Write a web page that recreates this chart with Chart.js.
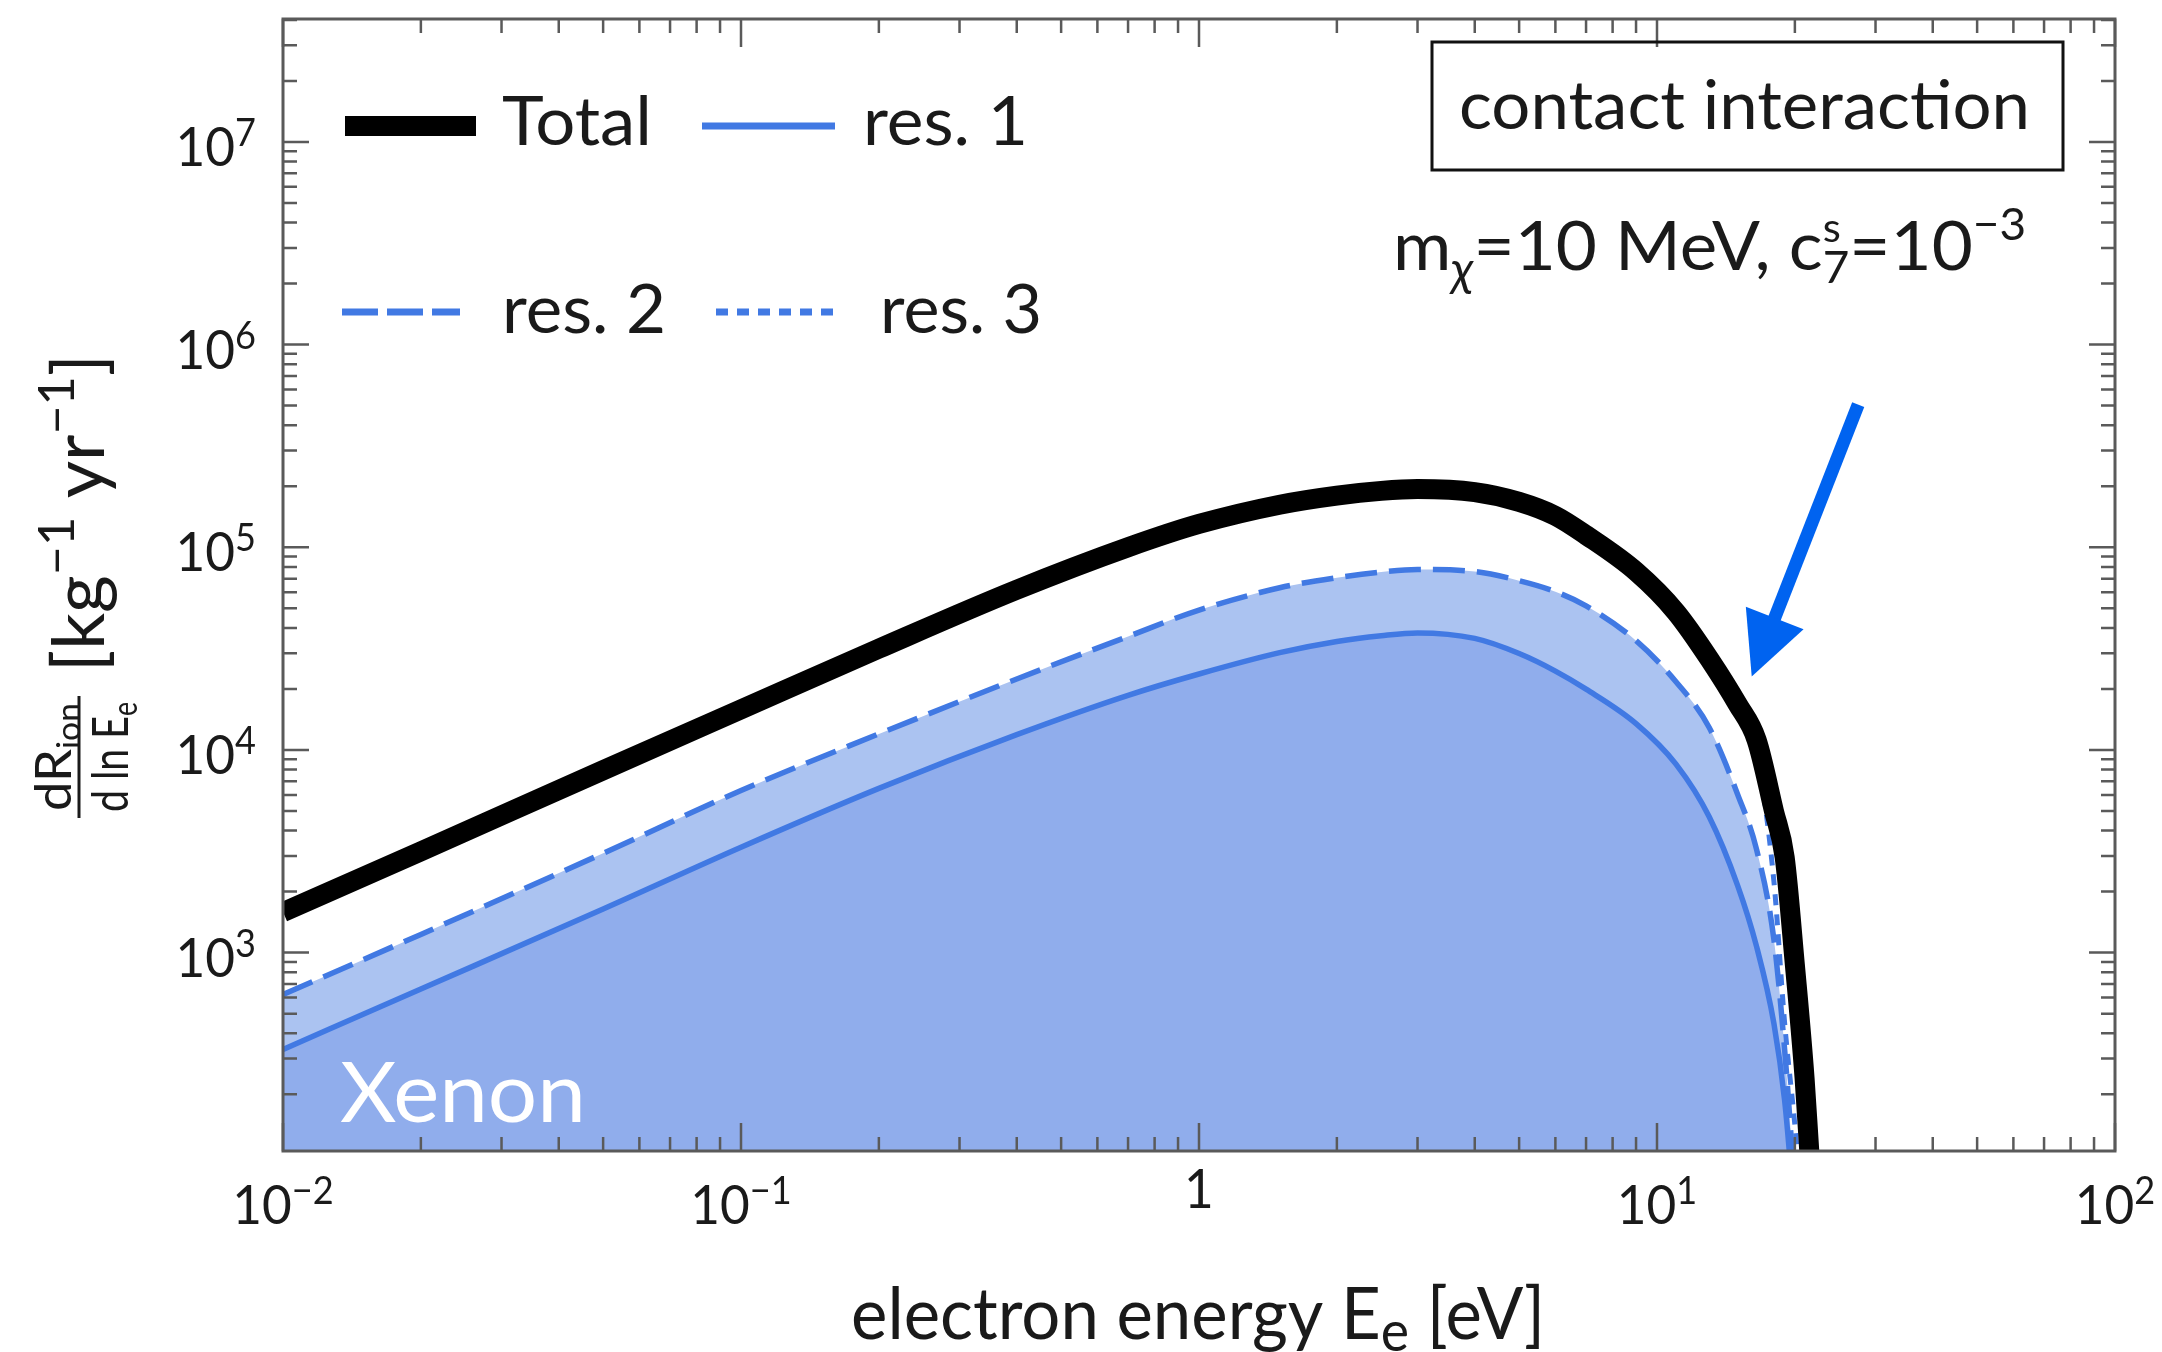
<!DOCTYPE html>
<html>
<head>
<meta charset="utf-8">
<script src="https://cdn.jsdelivr.net/npm/chart.js@4.4.0/dist/chart.umd.min.js"></script>
<style>
  html, body { margin: 0; padding: 0; background: #fff; }
  #wrap { width: 2162px; height: 1352px; }
</style>
</head>
<body>
<div id="wrap"><canvas id="grafico" width="2162" height="1352"></canvas></div>
<script>
// Taxa de ionização diferencial - Xenon, interação de contato

// energia do elétron E_e (eV)
const energias = [0.01, 0.02, 0.05, 0.1, 0.2, 0.4, 0.7, 1, 1.5, 2, 2.5, 3, 4, 5, 6, 7, 9, 11, 13, 15, 16.5, 18, 19, 20, 21, 21.5, 22];

// dR/dlnE (kg^-1 yr^-1)
const total = [1585, 3160, 7940, 15850, 31600, 61700, 100000, 130300, 162200, 179900, 189700, 193600, 187100, 167500, 142900, 114800, 75900, 47900, 28200, 16800, 11200, 5000, 2950, 870, 240, 105, 50];
const res1 = [333, 661, 1640, 3310, 6460, 11900, 18600, 23700, 30200, 34300, 36600, 37800, 35500, 29900, 24500, 19950, 13490, 8510, 4680, 2140, 1070, 447, 186, 50, 16, 13, 10];
const res2 = [621, 1230, 3090, 6310, 12000, 22400, 36300, 49000, 63100, 70800, 75500, 77600, 75900, 68400, 60400, 51400, 34600, 21700, 12900, 6030, 3220, 1160, 331, 71, 25, 20, 16];
const res3 = [1585, 3160, 7940, 15850, 31600, 61700, 100000, 130300, 162200, 179900, 189700, 193600, 187100, 167500, 142900, 114800, 75900, 47900, 28200, 16200, 9550, 2240, 447, 141, 40, 25, 16];

// marcas dos eixos
const xTicks = [0.01, 0.1, 1, 10, 100];
const xTickLabels = ['10^\u22122', '10^\u22121', '1', '10^1', '10^2'];
const yTicks = [1e3, 1e4, 1e5, 1e6, 1e7];
const yTickLabels = ['10^3', '10^4', '10^5', '10^6', '10^7'];

// seta (coordenadas de dados: início e ponta)
const setaInicio = { x: 27.5, y: 5.05e5 };
const setaFim = { x: 16.1, y: 2.3e4 };

const cores = {
    total: '#000000',
    linha: '#4179e3',
    claro: '#abc3f1',
    escuro: '#90adec',
    seta: '#0063f0',
    texto: '#1a1a1a',
    eixo: '#5a5a5a'
};

const SX = 0.95;

function pontos(valores) {
    return energias.map((e, i) => ({ x: e, y: valores[i] }));
}

function fonte(p) {
    return (p.it ? 'italic ' : '') + p.s + 'px Lato, "DejaVu Sans", sans-serif';
}

function larguraPeca(ctx, p) {
    if (p.pilha) {
        return Math.max(...p.pilha.map(q => { ctx.font = fonte(q); return ctx.measureText(q.t).width; }));
    }
    ctx.font = fonte(p);
    return ctx.measureText(p.t).width;
}

// texto com sub/sobrescritos
function desenharRico(ctx, pecas, x, y, o = {}) {
    const larguras = pecas.map(p => larguraPeca(ctx, p));
    const w = larguras.reduce((a, b) => a + b, 0);
    const sx = o.largura ? o.largura / w : (o.sx || SX);
    ctx.save();
    ctx.translate(x, y);
    if (o.rot) ctx.rotate(o.rot);
    ctx.scale(sx, 1);
    ctx.fillStyle = o.cor || cores.texto;
    ctx.textBaseline = 'alphabetic';
    ctx.textAlign = 'left';
    let cx = o.align === 'center' ? -w / 2 : o.align === 'right' ? -w : 0;
    pecas.forEach((p, i) => {
        (p.pilha || [p]).forEach(q => {
            ctx.font = fonte(q);
            ctx.fillText(q.t, cx, q.dy || 0);
        });
        cx += larguras[i];
    });
    ctx.restore();
}

function pecasPotencia(label) {
    const [b, e] = label.split('^');
    return e ? [{ t: b, s: 54 }, { t: e, s: 38, dy: -20 }] : [{ t: b, s: 54 }];
}

function linha(ctx, x1, y1, x2, y2, cor, largura, tracejado) {
    ctx.save();
    ctx.strokeStyle = cor;
    ctx.lineWidth = largura;
    ctx.setLineDash(tracejado || []);
    ctx.beginPath();
    ctx.moveTo(x1, y1);
    ctx.lineTo(x2, y2);
    ctx.stroke();
    ctx.restore();
}

const molduraPlugin = {
    id: 'moldura',
    beforeDraw(chart) {
        const ctx = chart.ctx;
        ctx.save();
        ctx.fillStyle = '#ffffff';
        ctx.fillRect(0, 0, chart.width, chart.height);
        ctx.restore();
    },
    afterDraw(chart) {
        const { ctx, chartArea: a, scales: { x, y } } = chart;

        // Xenon
        desenharRico(ctx, [{ t: 'Xenon', s: 84 }], 340, 1122, { largura: 246, cor: '#ffffff' });

        // ticks internos nos quatro lados
        ctx.save();
        ctx.strokeStyle = cores.eixo;
        ctx.lineWidth = 2.5;
        ctx.beginPath();
        for (let d = -2; d <= 2; d++) {
            for (let k = 1; k <= 9; k++) {
                const v = k * Math.pow(10, d);
                if (v > 100.0001) continue;
                const px = x.getPixelForValue(v);
                const len = k === 1 ? 28 : 14;
                ctx.moveTo(px, a.bottom); ctx.lineTo(px, a.bottom - len);
                ctx.moveTo(px, a.top); ctx.lineTo(px, a.top + len);
            }
        }
        for (let d = 2; d <= 7; d++) {
            for (let k = 1; k <= 9; k++) {
                const v = k * Math.pow(10, d);
                if (v < y.min || v > y.max) continue;
                const py = y.getPixelForValue(v);
                const len = k === 1 ? 26 : 14;
                ctx.moveTo(a.left, py); ctx.lineTo(a.left + len, py);
                ctx.moveTo(a.right, py); ctx.lineTo(a.right - len, py);
            }
        }
        ctx.stroke();
        ctx.lineWidth = 3;
        ctx.strokeRect(a.left, a.top, a.right - a.left, a.bottom - a.top);
        ctx.restore();

        // rótulos dos ticks
        xTicks.forEach((v, i) => {
            const lab = xTickLabels[i];
            const base = lab.includes('^') ? 1224 : 1208;
            desenharRico(ctx, pecasPotencia(lab), x.getPixelForValue(v), base, { align: 'center' });
        });
        yTicks.forEach((v, i) => {
            desenharRico(ctx, pecasPotencia(yTickLabels[i]), 256, y.getPixelForValue(v) + 24, { align: 'right' });
        });

        // título eixo x
        desenharRico(ctx, [
            { t: 'electron energy E', s: 72 },
            { t: 'e', s: 56, dy: 12 },
            { t: ' [eV]', s: 72 }
        ], 851, 1339, { largura: 694 });

        // título eixo y (girado)
        const rot = -Math.PI / 2;
        desenharRico(ctx, [
            { t: '[kg', s: 72 }, { t: '\u22121', s: 50, dy: -30 },
            { t: ' yr', s: 72 }, { t: '\u22121', s: 50, dy: -30 },
            { t: ']', s: 72 }
        ], 104, 672, { rot: rot, largura: 318 });
        desenharRico(ctx, [{ t: 'dR', s: 50 }, { t: 'ion', s: 32, dy: 9 }], 71, 757, { rot: rot, align: 'center', largura: 108 });
        desenharRico(ctx, [{ t: 'd ln E', s: 50 }, { t: 'e', s: 34, dy: 9 }], 128, 757, { rot: rot, align: 'center', largura: 110 });
        linha(ctx, 79, 818, 79, 696, cores.texto, 3);

        // legenda
        const ds = chart.data.datasets;
        linha(ctx, 345, 126, 476, 126, cores.total, 20);
        desenharRico(ctx, [{ t: ds[0].label, s: 68 }], 502, 145, { largura: 150 });
        linha(ctx, 702, 126, 835, 126, cores.linha, 7);
        desenharRico(ctx, [{ t: ds[1].label, s: 68 }], 863, 145, { largura: 165 });
        linha(ctx, 342, 312, 460, 312, cores.linha, 7, [36, 9]);
        desenharRico(ctx, [{ t: ds[2].label, s: 68 }], 502, 333, { largura: 164 });
        linha(ctx, 716, 312, 838, 312, cores.linha, 7, [12, 9]);
        desenharRico(ctx, [{ t: ds[3].label, s: 68 }], 880, 333, { largura: 162 });

        // caixa "contact interaction"
        ctx.save();
        ctx.strokeStyle = '#111';
        ctx.lineWidth = 3;
        ctx.strokeRect(1432, 42, 631, 128);
        ctx.restore();
        desenharRico(ctx, [{ t: 'contact interaction', s: 68 }], 1459, 129, { largura: 571 });

        // parâmetros
        desenharRico(ctx, [
            { t: 'm', s: 68 },
            { t: '\u03c7', s: 48, dy: 16, it: true },
            { t: '=10 MeV, c', s: 68 },
            { pilha: [{ t: 's', s: 40, dy: -28 }, { t: '7', s: 44, dy: 13 }] },
            { t: '=10', s: 68 },
            { t: '\u22123', s: 44, dy: -30 }
        ], 1393, 270, { largura: 633 });

        // seta azul
        const x0 = x.getPixelForValue(setaInicio.x), y0 = y.getPixelForValue(setaInicio.y);
        const x1 = x.getPixelForValue(setaFim.x), y1 = y.getPixelForValue(setaFim.y);
        const dx = x1 - x0, dy = y1 - y0, n = Math.hypot(dx, dy);
        const ux = dx / n, uy = dy / n;
        const bx = x1 - ux * 63, by = y1 - uy * 63;
        linha(ctx, x0, y0, bx + ux * 4, by + uy * 4, cores.seta, 13);
        ctx.save();
        ctx.fillStyle = cores.seta;
        ctx.beginPath();
        ctx.moveTo(x1, y1);
        ctx.lineTo(bx - uy * 31, by + ux * 31);
        ctx.lineTo(bx + uy * 31, by - ux * 31);
        ctx.closePath();
        ctx.fill();
        ctx.restore();
    }
};

const config = {
    type: 'line',
    data: {
        datasets: [{
            label: 'Total',
            data: pontos(total),
            borderColor: cores.total,
            borderWidth: 20,
            fill: false,
            order: 1
        }, {
            label: 'res. 1',
            data: pontos(res1),
            borderColor: cores.linha,
            borderWidth: 5.5,
            backgroundColor: cores.escuro,
            fill: 'start',
            order: 3
        }, {
            label: 'res. 2',
            data: pontos(res2),
            borderColor: cores.linha,
            borderWidth: 5.5,
            borderDash: [32, 12],
            backgroundColor: cores.claro,
            fill: 1,
            order: 4
        }, {
            label: 'res. 3',
            data: pontos(res3),
            borderColor: cores.linha,
            borderWidth: 5,
            borderDash: [11, 9],
            fill: false,
            order: 2
        }]
    },
    options: {
        responsive: false,
        animation: false,
        devicePixelRatio: 1,
        events: [],
        layout: { padding: { left: 283, right: 47, top: 19, bottom: 201 } },
        elements: {
            point: { radius: 0 },
            line: { cubicInterpolationMode: 'monotone', capBezierPoints: false, borderJoinStyle: 'round' }
        },
        datasets: { line: { clip: 0 } },
        plugins: {
            legend: { display: false },
            tooltip: { enabled: false },
            filler: { propagate: false }
        },
        scales: {
            x: { type: 'logarithmic', min: 0.01, max: 100, bounds: 'data', display: false },
            y: { type: 'logarithmic', min: 105, max: 4.04e7, bounds: 'data', display: false }
        }
    },
    plugins: [molduraPlugin]
};

new Chart(document.getElementById('grafico').getContext('2d'), config);
</script>
</body>
</html>
